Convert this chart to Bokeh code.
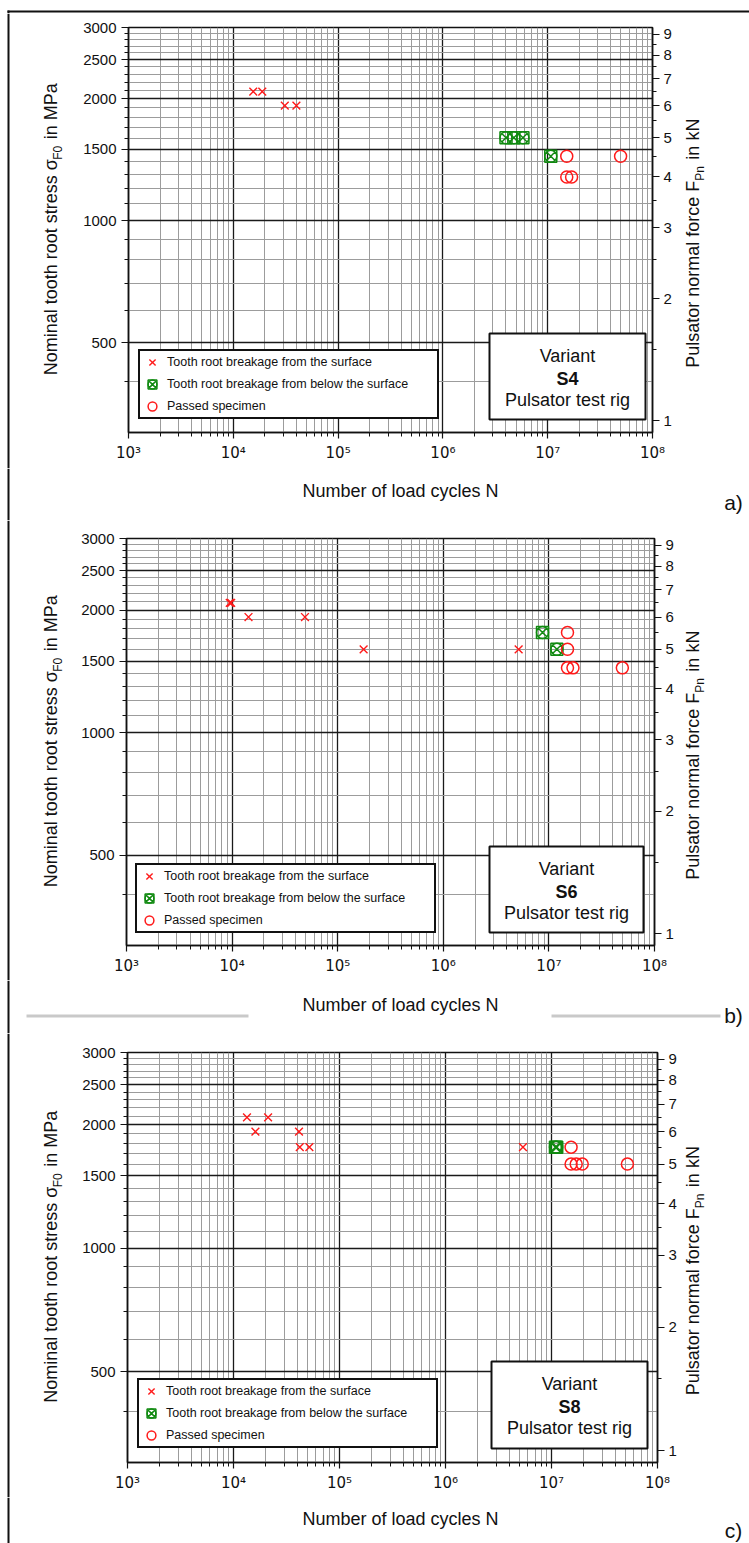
import math
from bokeh.plotting import figure
from bokeh.models import (LogAxis, LogScale, Range1d, FixedTicker, Label, Legend,
                          LegendItem, BoxAnnotation)
from bokeh.layouts import column, row
from bokeh.embed import file_html
from bokeh.resources import INLINE

# ---------------- axes / ticks ----------------
n_min, n_max = 1e3, 1e8
s_min, s_max = 300, 3000            # nominal tooth root stress in MPa
mpa_per_kn = 320.6                  # ratio between left (MPa) and right (kN) scale
x_ticks = [10**3, 10**4, 10**5, 10**6, 10**7, 10**8]
x_tick_labels = ["10³", "10⁴", "10⁵", "10⁶", "10⁷", "10⁸"]
y_ticks = [500, 1000, 1500, 2000, 2500, 3000]
y_tick_labels = ["500", "1000", "1500", "2000", "2500", "3000"]
kn_ticks = [1, 2, 3, 4, 5, 6, 7, 8, 9]
kn_tick_labels = ["1", "2", "3", "4", "5", "6", "7", "8", "9"]
legend_labels = ["Tooth root breakage from the surface",
                 "Tooth root breakage from below the surface",
                 "Passed specimen"]
x_title = "Number of load cycles N"

# ---------------- data: variant S4 ----------------
s4_surface_N = [15500, 18900, 31000, 40000]
s4_surface_S = [2084, 2084, 1924, 1924]
s4_below_N = [4.0e6, 4.75e6, 5.8e6, 1.07e7]
s4_below_S = [1603, 1603, 1603, 1443]
s4_passed_N = [1.52e7, 4.96e7, 1.52e7, 1.69e7]
s4_passed_S = [1443, 1443, 1282, 1282]

# ---------------- data: variant S6 ----------------
s6_surface_N = [9500, 9800, 14300, 49000, 176000, 5.17e6]
s6_surface_S = [2084, 2084, 1924, 1924, 1603, 1603]
s6_below_N = [8.7e6, 1.19e7]
s6_below_S = [1763, 1603]
s6_passed_N = [1.5e7, 1.5e7, 1.5e7, 1.69e7, 4.96e7]
s6_passed_S = [1763, 1603, 1443, 1443, 1443]

# ---------------- data: variant S8 ----------------
s8_surface_N = [13400, 21200, 16100, 41500, 42200, 52000, 5.38e6]
s8_surface_S = [2084, 2084, 1924, 1924, 1763, 1763, 1763]
s8_below_N = [1.09e7, 1.12e7]
s8_below_S = [1763, 1763]
s8_passed_N = [1.53e7, 1.53e7, 1.71e7, 1.95e7, 5.2e7]
s8_passed_S = [1763, 1603, 1603, 1603, 1603]

RED = "#ff1a1a"
GREEN = "#118a11"
INK = "#111111"
SEP = "#c9c9c9"
FONT = "Liberation Sans"
W = 749
LW = 70          # left strip width
MR = 680         # right edge of main figures

x_minor = [m * 10**k for k in range(3, 8) for m in range(2, 10)]
y_minor = [v for v in range(400, 3000, 100) if v % 500 != 0]
kn_minor = [k + 0.5 for k in range(1, 9)]

ARIAL = {' ': 278, 'N': 722, 'o': 556, 'm': 833, 'i': 222, 'n': 556, 'a': 556,
         'l': 222, 't': 278, 'h': 556, 'r': 333, 's': 500, 'e': 556, 'σ': 575,
         'M': 833, 'P': 667, 'u': 556, 'f': 278, 'c': 500, 'k': 500, 'F': 611,
         '0': 556}


def tw(text, size):
    return sum(ARIAL.get(ch, 556) for ch in text) * size / 1000.0


def strip(w, h):
    """Plain drawing area (1 unit = 1 px, y measured downward from the top)."""
    s = figure(width=w, height=h, x_range=Range1d(0, w), y_range=Range1d(h, 0),
               output_backend="svg", toolbar_location=None, title=None,
               x_axis_location=None, y_axis_location=None,
               min_border_left=0, min_border_right=0, min_border_top=0,
               min_border_bottom=0)
    s.frame_align = False
    s.grid.visible = False
    s.outline_line_color = None
    s.background_fill_color = "white"
    s.border_fill_color = "white"
    return s


def box(p, l, r, t, b, color):
    p.add_layout(BoxAnnotation(left=l, right=r, top=t, bottom=b, fill_color=color,
                               fill_alpha=1, line_alpha=0))


def label(p, x, y, text, size, **kw):
    p.add_layout(Label(x=x, y=y, text=text, text_font=FONT,
                       text_font_size=f"{size}px", text_color=INK, **kw))


def rot_title(p, parts, base_x, center_y):
    """Vertical title made of pieces; base_x = baseline of the main text.
    Leading blanks are turned into explicit gaps (SVG drops them)."""
    widths = [tw(t, s) for t, s, _ in parts]
    y = center_y + sum(widths) / 2.0
    for (t, s, sub), w in zip(parts, widths):
        lead = len(t) - len(t.lstrip(" "))
        gap = tw(" " * lead, s) + (1.5 if lead else 0)
        top_x = base_x + (3.5 if sub else 0) - 0.95 * s
        label(p, top_x, y - gap, t.lstrip(" "), s, angle=math.pi / 2,
              text_align="left", text_baseline="top")
        y -= w + (1.5 if lead else 0)


def main_fig(g, variant, surf_N, surf_S, below_N, below_S, pass_N, pass_S):
    L, R, T, B, Y0, Y1 = g["L"], g["R"], g["T"], g["B"], g["Y0"], g["Y1"]
    p = figure(width=MR - LW, height=Y1 - Y0, x_axis_type="log", y_axis_type="log",
               x_range=Range1d(n_min, n_max), y_range=Range1d(s_min, s_max),
               output_backend="svg", toolbar_location=None, title=None,
               min_border_left=L - LW, min_border_right=MR - R,
               min_border_top=T - Y0, min_border_bottom=Y1 - B)
    p.frame_align = False
    p.background_fill_color = "white"
    p.border_fill_color = "white"
    p.outline_line_color = INK
    p.outline_line_width = 1.5

    def px2x(px):
        return 10 ** (math.log10(n_min) + 5.0 * (px - L) / (R - L))

    def py2y(py):
        return 10 ** (math.log10(s_max) - (py - T) / (B - T))

    xt = FixedTicker(ticks=x_ticks, minor_ticks=x_minor)
    xa = p.xaxis[0]
    xa.ticker = xt
    xa.major_label_overrides = {t: l for t, l in zip(x_ticks, x_tick_labels)}
    xa.major_label_text_font = "DejaVu Sans"
    xa.major_label_text_font_size = "15px"
    xa.major_label_text_color = INK
    xa.major_label_standoff = 5
    xa.major_tick_in = 0
    xa.major_tick_out = 6
    xa.minor_tick_in = 0
    xa.minor_tick_out = 4

    yt = FixedTicker(ticks=y_ticks, minor_ticks=y_minor)
    ya = p.yaxis[0]
    ya.ticker = yt
    ya.major_label_overrides = {t: l for t, l in zip(y_ticks, y_tick_labels)}
    ya.major_label_text_font = FONT
    ya.major_label_text_font_size = "15px"
    ya.major_label_text_color = INK
    ya.major_label_standoff = 5
    ya.major_tick_in = 0
    ya.major_tick_out = 7
    ya.minor_tick_in = 0
    ya.minor_tick_out = 4

    p.extra_y_ranges = {"kn": Range1d(s_min / mpa_per_kn, s_max / mpa_per_kn)}
    p.extra_y_scales = {"kn": LogScale()}
    ra = LogAxis(y_range_name="kn",
                 ticker=FixedTicker(ticks=kn_ticks, minor_ticks=kn_minor))
    ra.major_label_overrides = {t: l for t, l in zip(kn_ticks, kn_tick_labels)}
    ra.major_label_text_font = FONT
    ra.major_label_text_font_size = "15px"
    ra.major_label_text_color = INK
    ra.major_label_standoff = 4
    ra.major_tick_in = 0
    ra.major_tick_out = 7
    ra.minor_tick_in = 0
    ra.minor_tick_out = 4
    p.add_layout(ra, "right")

    for ax in (xa, ya, ra):
        ax.axis_line_width = 1.5
        ax.axis_line_color = INK
        ax.major_tick_line_color = INK
        ax.minor_tick_line_color = INK
        ax.major_tick_line_width = 1.2

    p.xgrid.ticker = xt
    p.ygrid.ticker = yt
    for gr in (p.xgrid[0], p.ygrid[0]):
        gr.grid_line_color = "#1a1a1a"
        gr.grid_line_width = 1.3
        gr.minor_grid_line_color = "#9c9c9c"
        gr.minor_grid_line_width = 1

    r_x = p.scatter(surf_N, surf_S, marker="x", size=11, line_color=RED, line_width=1.4)
    r_g1 = p.scatter(below_N, below_S, marker="square", size=12, fill_color=None,
                     line_color=GREEN, line_width=1.5)
    r_g2 = p.scatter(below_N, below_S, marker="circle_x", size=12, fill_color=None,
                     line_color=GREEN, line_width=1.5)
    r_o = p.scatter(pass_N, pass_S, marker="circle", size=12, fill_color=None,
                    line_color=RED, line_width=1.5)

    legend = Legend(items=[LegendItem(label=legend_labels[0], renderers=[r_x]),
                           LegendItem(label=legend_labels[1], renderers=[r_g1, r_g2]),
                           LegendItem(label=legend_labels[2], renderers=[r_o])],
                    location=g["legend_loc"], orientation="vertical",
                    border_line_color=INK, border_line_width=2, border_line_alpha=1,
                    background_fill_color="white", background_fill_alpha=1,
                    label_text_font=FONT, label_text_font_size="12.5px",
                    label_text_color=INK,
                    glyph_width=24, glyph_height=22, label_height=22,
                    spacing=0, padding=0, margin=0, label_standoff=3,
                    label_width=270)
    p.add_layout(legend)

    bl, br, bt, bb = g["box"]
    p.add_layout(BoxAnnotation(left=px2x(bl), right=px2x(br), top=py2y(bt),
                               bottom=py2y(bb), fill_color="white", fill_alpha=1,
                               line_color=INK, line_width=2, line_alpha=1))
    cx = px2x((bl + br) / 2)
    for txt, dy, style in (("Variant", 22, "normal"), (variant, 45, "bold"),
                           ("Pulsator test rig", 66, "normal")):
        label(p, cx, py2y(bt + dy), txt, 18, text_align="center",
              text_baseline="middle", text_font_style=style)
    return p


def panel(g, tag, variant, *data):
    Y0, Y1, Y2 = g["Y0"], g["Y1"], g["Y2"]
    h = Y1 - Y0
    fc = (g["T"] + g["B"]) / 2.0 - Y0

    left = strip(LW, h)
    box(left, 7, 9, 0, h, INK)
    rot_title(left, [("Nominal tooth root stress σ", 18, False), ("F0", 12, True),
                     (" in MPa", 18, False)], 58, fc)

    right = strip(W - MR, h)
    rot_title(right, [("Pulsator normal force F", 18, False), ("Pn", 12, True),
                      (" in kN", 18, False)], 700 - MR, fc + 14)

    main = main_fig(g, variant, *data)

    hb = Y2 - Y1
    bottom = strip(W, hb)
    box(bottom, 7, 9, 0, hb, INK)
    label(bottom, 400, g["title_y"] - Y1, x_title, 18, text_align="center",
          text_baseline="middle")
    label(bottom, 733, g["tag_y"] - Y1, tag, 21, text_align="center",
          text_baseline="middle")
    for (l, r, t, b) in g.get("seps", []):
        box(bottom, l, r, t - Y1, b - Y1, SEP)
    return [row(left, main, right), bottom]


geoms = [
    dict(L=128, R=652, T=27, B=432, Y0=13, Y1=468, Y2=520,
         legend_loc=(10, 13), box=(489, 645, 333, 419), title_y=490, tag_y=502),
    dict(L=126, R=654, T=538, B=945, Y0=520, Y1=980, Y2=1033,
         legend_loc=(9, 12), box=(489, 643, 846, 932), title_y=1004, tag_y=1015,
         seps=[(26, 248, 1014, 1017), (551, 720, 1014, 1017)]),
    dict(L=127, R=657, T=1052, B=1462, Y0=1033, Y1=1497, Y2=1543,
         legend_loc=(10, 14), box=(491, 647, 1361, 1448), title_y=1518, tag_y=1530),
]

top = strip(W, 13)
box(top, 7, W, 10, 12, INK)
box(top, 7, 9, 10, 13, INK)

items = [top]
items += panel(geoms[0], "a)", "S4", s4_surface_N, s4_surface_S, s4_below_N,
               s4_below_S, s4_passed_N, s4_passed_S)
items += panel(geoms[1], "b)", "S6", s6_surface_N, s6_surface_S, s6_below_N,
               s6_below_S, s6_passed_N, s6_passed_S)
items += panel(geoms[2], "c)", "S8", s8_surface_N, s8_surface_S, s8_below_N,
               s8_below_S, s8_passed_N, s8_passed_S)

layout = column(*items)
open("out.html", "w").write(file_html(layout, INLINE))
